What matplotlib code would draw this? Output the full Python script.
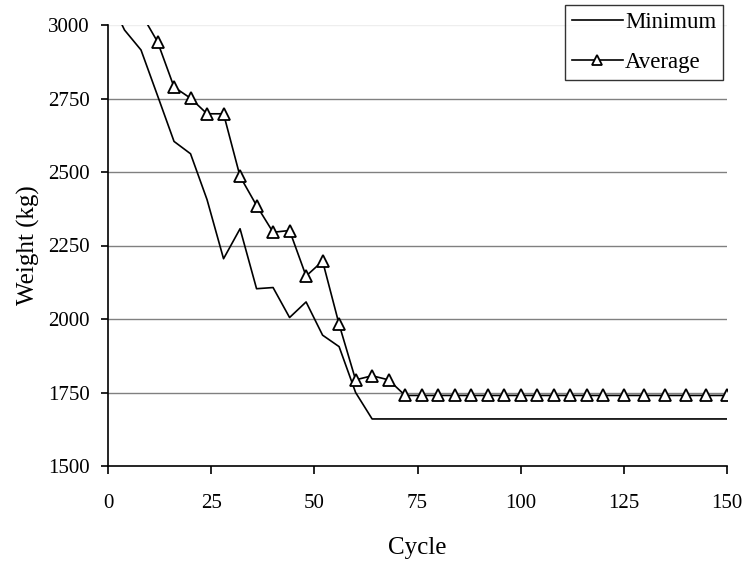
import matplotlib
matplotlib.use('Agg')
import matplotlib.pyplot as plt

# cycles where values were logged (every 4 up to 120, then every 5)
cycles = [0, 4, 8, 12, 16, 20, 24, 28, 32, 36, 40, 44, 48, 52, 56, 60, 64, 68,
          72, 76, 80, 84, 88, 92, 96, 100, 104, 108, 112, 116, 120,
          125, 130, 135, 140, 145, 150]

minimum = [3100, 2983, 2915, 2760, 2604, 2562, 2406, 2205, 2307, 2103, 2107, 2005,
           2058, 1945, 1906, 1750, 1660, 1660,
           1660, 1660, 1660, 1660, 1660, 1660, 1660, 1660, 1660, 1660, 1660, 1660, 1660,
           1660, 1660, 1660, 1660, 1660, 1660]

average = [3300, 3150, 3040, 2943, 2789, 2751, 2698, 2698, 2485, 2386, 2295, 2301,
           2146, 2197, 1982, 1793, 1807, 1793,
           1740, 1740, 1740, 1740, 1740, 1740, 1740, 1740, 1740, 1740, 1740, 1740, 1740,
           1740, 1740, 1740, 1740, 1740, 1740]

plt.rcParams['font.family'] = ['Liberation Serif', 'DejaVu Serif']
plt.rcParams['font.size'] = 15

fig = plt.figure(figsize=(7.44, 5.67), dpi=100)
ax = fig.add_axes([108 / 744, 1 - 466 / 567, (727 - 108) / 744, (466 - 25) / 567])

for y in [1750, 2000, 2250, 2500, 2750]:
    ax.axhline(y, color='#808080', lw=1.0, zorder=1)
ax.axhline(3000, color='#eeeeee', lw=1.0, zorder=1)

ax.plot(cycles, minimum, '-', color='black', lw=1.2, label='Minimum', zorder=3)
ax.plot(cycles, average, '-', color='black', lw=1.2, marker='^', ms=8,
        mfc='white', mec='black', mew=1.3, label='Average', zorder=4)

ax.set_xlim(0, 150)
ax.set_ylim(1500, 3000)
ax.set_xticks([0, 25, 50, 75, 100, 125, 150])
ax.set_yticks([1500, 1750, 2000, 2250, 2500, 2750, 3000])

for s in ['top', 'right']:
    ax.spines[s].set_visible(False)
for s in ['left', 'bottom']:
    ax.spines[s].set_linewidth(1.2)

ax.tick_params(axis='x', direction='out', length=5.5, width=1.2, pad=15, labelsize=15)
ax.tick_params(axis='y', direction='out', length=5, width=1.2, pad=8, labelsize=15)

ax.set_xlabel('Cycle', fontsize=18, labelpad=17)
ax.set_ylabel('Weight (kg)', fontsize=18, labelpad=6)

leg = ax.legend(loc='upper right', bbox_to_anchor=(723 / 744, 1 - 5 / 567),
                bbox_transform=fig.transFigure, frameon=True, fancybox=False,
                fontsize=16.5, handlelength=2.2, handletextpad=0.1, borderpad=0.3,
                labelspacing=0.85, borderaxespad=0, markerscale=0.85)
leg.get_frame().set_edgecolor('black')
leg.get_frame().set_linewidth(1.0)

fig.savefig('out.png', dpi=100)
